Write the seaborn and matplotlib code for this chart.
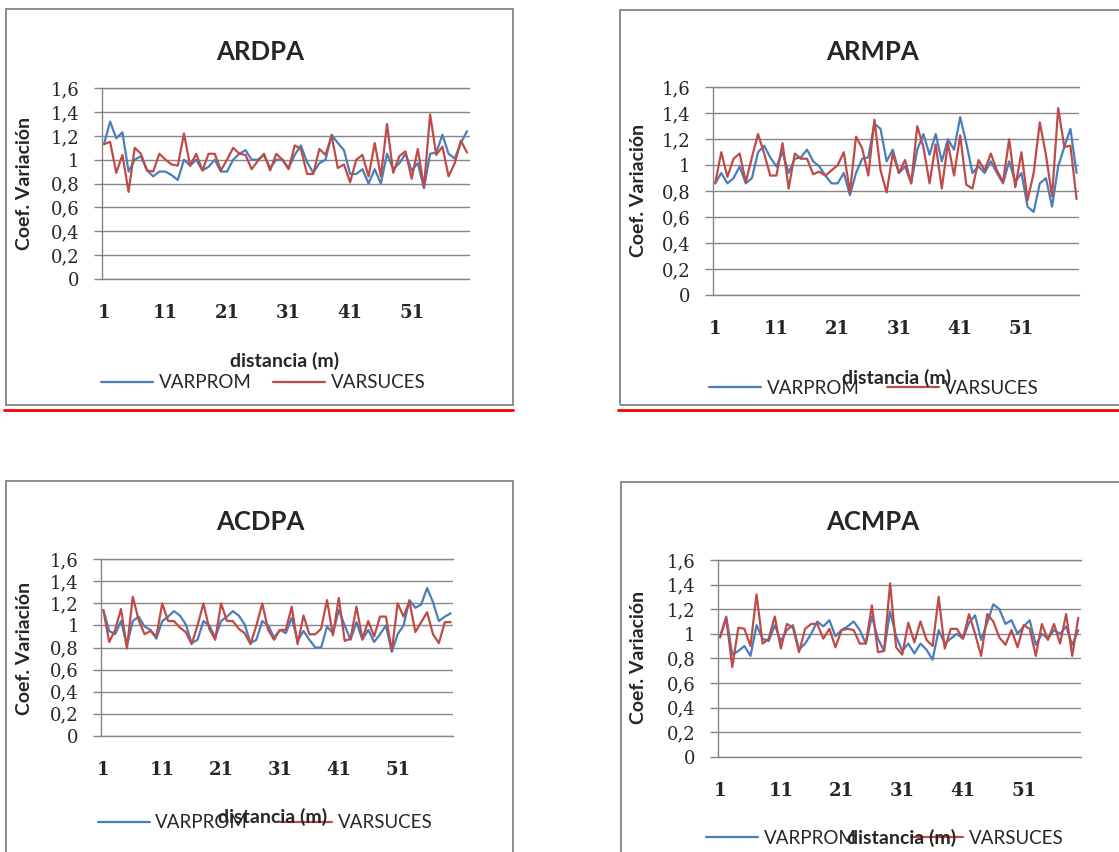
import pandas as pd
import seaborn as sns
import matplotlib.pyplot as plt
from matplotlib.patches import Rectangle
from matplotlib.lines import Line2D

# distancia (m): 60 puntos por serie
distancia = list(range(1, 61))
series = ['VARPROM', 'VARSUCES']
titles = ['ARDPA', 'ARMPA', 'ACDPA', 'ACMPA']
y_ticks = [0, 0.2, 0.4, 0.6, 0.8, 1.0, 1.2, 1.4, 1.6]
y_tick_labels = ['0', '0,2', '0,4', '0,6', '0,8', '1', '1,2', '1,4', '1,6']
x_ticks = [1, 11, 21, 31, 41, 51]

ardpa_prom = [1.13, 1.32, 1.18, 1.23, 0.90, 1.00, 1.03, 0.91, 0.86, 0.90,
              0.90, 0.87, 0.83, 1.00, 0.95, 1.00, 0.91, 0.94, 1.00, 0.90,
              0.90, 1.00, 1.05, 1.08, 1.00, 1.00, 1.04, 0.93, 1.00, 1.00,
              0.93, 1.04, 1.12, 0.98, 0.89, 0.97, 1.00, 1.21, 1.14, 1.08,
              0.88, 0.88, 0.92, 0.80, 0.92, 0.80, 1.05, 0.92, 0.97, 1.05,
              0.91, 0.97, 0.76, 1.05, 1.06, 1.21, 1.05, 1.01, 1.14, 1.24]
ardpa_suces = [1.13, 1.15, 0.89, 1.04, 0.73, 1.10, 1.05, 0.91, 0.90, 1.05,
               1.00, 0.96, 0.95, 1.22, 0.95, 1.05, 0.91, 1.05, 1.05, 0.91,
               1.00, 1.10, 1.05, 1.04, 0.92, 0.99, 1.05, 0.91, 1.05, 1.00,
               0.92, 1.12, 1.09, 0.88, 0.88, 1.09, 1.04, 1.20, 0.93, 0.96,
               0.81, 1.00, 1.04, 0.86, 1.14, 0.86, 1.30, 0.89, 1.03, 1.07,
               0.84, 1.09, 0.77, 1.38, 1.04, 1.11, 0.86, 0.97, 1.16, 1.06]

armpa_prom = [0.86, 0.94, 0.86, 0.90, 0.99, 0.86, 0.90, 1.10, 1.15, 1.06,
              0.99, 1.10, 0.94, 1.05, 1.06, 1.12, 1.03, 0.99, 0.92, 0.86,
              0.86, 0.94, 0.77, 0.94, 1.05, 1.06, 1.32, 1.28, 1.03, 1.12,
              0.94, 0.99, 0.86, 1.12, 1.24, 1.08, 1.24, 1.03, 1.20, 1.12,
              1.37, 1.17, 0.94, 0.99, 0.94, 1.03, 0.94, 0.86, 1.03, 0.87,
              0.94, 0.68, 0.64, 0.86, 0.90, 0.68, 0.99, 1.14, 1.28, 0.94]
armpa_suces = [0.86, 1.10, 0.91, 1.05, 1.09, 0.87, 1.06, 1.24, 1.09, 0.92,
               0.92, 1.17, 0.82, 1.09, 1.05, 1.05, 0.93, 0.95, 0.92, 0.96,
               1.00, 1.10, 0.79, 1.22, 1.13, 0.92, 1.35, 0.96, 0.79, 1.09,
               0.94, 1.04, 0.86, 1.30, 1.14, 0.86, 1.16, 0.82, 1.17, 0.92,
               1.23, 0.85, 0.82, 1.04, 0.96, 1.09, 0.96, 0.87, 1.20, 0.83,
               1.10, 0.73, 0.94, 1.33, 1.08, 0.76, 1.44, 1.14, 1.15, 0.74]

acdpa_prom = [1.14, 0.95, 0.92, 1.04, 0.82, 1.04, 1.08, 0.99, 0.96, 0.88,
              1.04, 1.08, 1.13, 1.09, 1.01, 0.84, 0.87, 1.04, 1.00, 0.89,
              1.04, 1.08, 1.13, 1.09, 1.01, 0.84, 0.87, 1.04, 1.00, 0.89,
              0.96, 0.93, 1.07, 0.86, 0.95, 0.87, 0.80, 0.80, 0.99, 0.93,
              1.14, 1.00, 0.87, 1.03, 0.87, 0.96, 0.85, 0.92, 1.00, 0.76,
              0.92, 1.00, 1.23, 1.16, 1.19, 1.34, 1.21, 1.04, 1.08, 1.11]
acdpa_suces = [1.14, 0.85, 0.96, 1.15, 0.79, 1.26, 1.05, 0.92, 0.95, 0.90,
               1.20, 1.04, 1.04, 0.98, 0.94, 0.83, 1.00, 1.20, 0.97, 0.87,
               1.20, 1.04, 1.04, 0.97, 0.93, 0.83, 1.00, 1.20, 0.96, 0.87,
               0.96, 0.96, 1.17, 0.83, 1.09, 0.92, 0.92, 0.97, 1.23, 0.91,
               1.25, 0.86, 0.88, 1.17, 0.88, 1.04, 0.90, 1.08, 1.08, 0.77,
               1.20, 1.08, 1.22, 0.94, 1.03, 1.12, 0.92, 0.84, 1.03, 1.03]

acmpa_prom = [0.98, 1.14, 0.83, 0.86, 0.90, 0.82, 1.07, 0.96, 0.94, 1.07,
              0.94, 1.03, 1.07, 0.87, 0.92, 1.00, 1.10, 1.06, 1.11, 0.98,
              1.03, 1.06, 1.10, 1.03, 0.92, 1.14, 0.96, 0.86, 1.18, 0.98,
              0.86, 0.92, 0.84, 0.92, 0.87, 0.79, 1.03, 0.92, 0.96, 1.00,
              0.96, 1.09, 1.15, 0.95, 1.09, 1.24, 1.20, 1.08, 1.11, 1.00,
              1.06, 1.11, 0.91, 1.00, 0.96, 1.03, 1.00, 1.06, 0.91, 1.03]
acmpa_suces = [0.97, 1.13, 0.73, 1.05, 1.04, 0.90, 1.32, 0.92, 0.96, 1.14,
               0.88, 1.08, 1.05, 0.85, 1.04, 1.08, 1.08, 0.96, 1.04, 0.89,
               1.03, 1.04, 1.03, 0.92, 0.92, 1.23, 0.85, 0.86, 1.41, 0.89,
               0.83, 1.09, 0.93, 1.10, 0.95, 0.90, 1.30, 0.88, 1.04, 1.04,
               0.96, 1.16, 1.00, 0.82, 1.16, 1.10, 0.97, 0.91, 1.03, 0.89,
               1.07, 1.04, 0.82, 1.08, 0.95, 1.08, 0.92, 1.16, 0.82, 1.13]

values = {
    'ARDPA': (ardpa_prom, ardpa_suces),
    'ARMPA': (armpa_prom, armpa_suces),
    'ACDPA': (acdpa_prom, acdpa_suces),
    'ACMPA': (acmpa_prom, acmpa_suces),
}

W, H = 1119, 852
BLUE = '#4a7ebb'
RED = '#be4b48'
GRID = '#868686'


def fx(x):
    return x / W


def fy(y):
    return 1 - y / H


# pixel layout of each chart (x from left, y from top)
layout = {
    'ARDPA': dict(ax=(101.5, 469.5, 88.3, 278.7), title=(260, 52), ylab=(25, 183),
                  xlab=(285, 361), leg=(263.5, 383), frame=(6, 9, 513, 405), colsp=1.15),
    'ARMPA': dict(ax=(712.7, 1079, 87.3, 295), title=(873, 52), ylab=(638, 190),
                  xlab=(897, 378), leg=(874, 388), frame=(620, 9.5, 1135, 405), colsp=1.45),
    'ACDPA': dict(ax=(101, 453, 559.3, 735.7), title=(260, 522), ylab=(25, 648),
                  xlab=(273, 817), leg=(265, 823), frame=(6, 481, 513, 880), colsp=1.7),
    'ACMPA': dict(ax=(717.7, 1080.7, 560, 756.7), title=(873, 522), ylab=(638, 657),
                  xlab=(902, 838), leg=(885, 838), frame=(620.5, 482, 1135, 880), colsp=2.9),
}

sns.set_style('white')
plt.rcParams['font.family'] = ['Lato', 'DejaVu Sans']

fig = plt.figure(figsize=(W / 100, H / 100), dpi=100)

for name in titles:
    lay = layout[name]
    prom, suces = values[name]

    # chart frame (Excel chart area border)
    x0, y0, x1, y1 = lay['frame']
    fig.patches.append(Rectangle((fx(x0), fy(y1)), (x1 - x0) / W, (y1 - y0) / H,
                                 transform=fig.transFigure, fill=False,
                                 edgecolor='#8a8a8a', lw=1.4, zorder=0))

    l, r, t, b = lay['ax']
    ax = fig.add_axes([fx(l), fy(b), (r - l) / W, (b - t) / H])

    df = pd.DataFrame({
        'distancia': distancia * 2,
        'coef': prom + suces,
        'serie': [series[0]] * len(prom) + [series[1]] * len(suces),
    })
    sns.lineplot(data=df, x='distancia', y='coef', hue='serie', palette=[BLUE, RED],
                 linewidth=1.6, errorbar=None, ax=ax)

    ax.set_xlim(0.6, 60.4)
    ax.set_ylim(0, 1.6)
    ax.set_yticks(y_ticks, y_tick_labels)
    ax.set_xticks(x_ticks, [str(v) for v in x_ticks])
    ax.grid(axis='y', color=GRID, lw=1)
    ax.grid(axis='x', visible=False)
    ax.set_axisbelow(True)
    for s in ['left', 'top', 'bottom']:
        ax.spines[s].set_color(GRID)
        ax.spines[s].set_linewidth(1)
    ax.spines['right'].set_visible(False)
    ax.tick_params(axis='y', length=6, width=1, color=GRID, pad=10, labelsize=13, left=True)
    ax.tick_params(axis='x', length=0, pad=18, labelsize=13)
    for lab in ax.get_yticklabels():
        lab.set_fontfamily('DejaVu Serif')
    for lab in ax.get_xticklabels():
        lab.set_fontfamily('DejaVu Serif')
        lab.set_fontweight('bold')
    ax.set_xlabel('')
    ax.set_ylabel('')

    fig.text(fx(lay['title'][0]), fy(lay['title'][1]), name, ha='center', va='center',
             fontsize=18.5, fontweight='bold')
    fig.text(fx(lay['ylab'][0]), fy(lay['ylab'][1]), 'Coef. Variación', ha='center',
             va='center', rotation=90, fontsize=14, fontweight='bold')

    sns.move_legend(ax, 'center', bbox_to_anchor=(fx(lay['leg'][0]), fy(lay['leg'][1])),
                    bbox_transform=fig.transFigure, ncol=2, frameon=False, title=None,
                    fontsize=13.5, handlelength=2.77, handletextpad=0.3,
                    columnspacing=lay['colsp'], borderaxespad=0, borderpad=0)
    for line in ax.get_legend().get_lines():
        line.set_linewidth(1.6)

    fig.text(fx(lay['xlab'][0]), fy(lay['xlab'][1]), 'distancia (m)', ha='center',
             va='center', fontsize=14, fontweight='bold', zorder=5)

# red separators under the upper charts
for xa, xb in [(4, 513), (618, 1119)]:
    fig.lines.append(Line2D([fx(xa), fx(xb)], [fy(410), fy(410)], transform=fig.transFigure,
                            color='#ff0000', lw=2))

fig.savefig('out.png', dpi=100)
